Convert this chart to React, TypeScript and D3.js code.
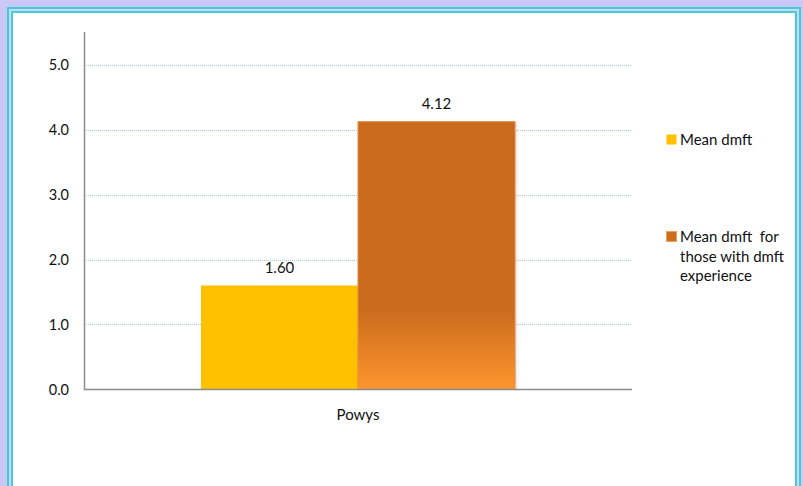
import React from "react";
import * as d3 from "d3";

const categories = ["Powys"];
const seriesNames = ["Mean dmft", "Mean dmft  for those with dmft experience"];
const legendLines = [["Mean dmft"], ["Mean dmft  for", "those with dmft", "experience"]];
const seriesValues = [[1.6], [4.12]];
const valueLabels = [["1.60"], ["4.12"]];
const yTicks = [0, 1, 2, 3, 4, 5];

const W = 803;
const H = 486;
const plot = { left: 84, right: 632, top: 32, bottom: 390 };
const FONT = "Lato, 'Open Sans', sans-serif";

export default function App() {
  const y = d3.scaleLinear().domain([0, 5.5]).range([plot.bottom - 0.5, plot.top]);
  const x0 = d3.scaleBand<string>().domain(categories).range([plot.left, plot.right]).paddingInner(0).paddingOuter(0);
  const x1 = d3
    .scaleBand<number>()
    .domain(seriesNames.map((_, i) => i))
    .range([117, x0.bandwidth() - 117])
    .padding(0);

  return (
    <svg
      width={W}
      height={H}
      style={{ position: "absolute", left: 0, top: 0, display: "block" }}
      fontFamily={FONT}
    >
      <defs>
        <linearGradient id="orangeGrad" x1="0" y1="0" x2="0" y2="1">
          <stop offset="0" stopColor="#c96a1c" />
          <stop offset="0.7" stopColor="#ca6b1d" />
          <stop offset="1" stopColor="#ff952f" />
        </linearGradient>
        <linearGradient id="shadowGrad" x1="0" y1="0" x2="1" y2="0">
          <stop offset="0" stopColor="#000" stopOpacity="0.12" />
          <stop offset="1" stopColor="#000" stopOpacity="0" />
        </linearGradient>
      </defs>
      {/* frame */}
      <rect x={0} y={0} width={W} height={H} fill="#cbc8f8" />
      <rect x={7} y={7} width={794} height={H + 20} fill="#3ccfd6" />
      <rect x={9} y={9} width={790} height={H + 20} fill="#d4d2f6" />
      <rect x={11} y={11} width={786} height={H + 20} fill="#3ccfd6" />
      <rect x={13} y={13} width={782} height={H + 20} fill="#ffffff" />

      {/* gridlines */}
      {yTicks
        .filter((t) => t > 0)
        .map((t) => (
          <line
            key={t}
            x1={plot.left}
            x2={plot.right}
            y1={Math.round(y(t)) + 0.5}
            y2={Math.round(y(t)) + 0.5}
            stroke="#a9c4e6"
            strokeWidth={1}
            strokeDasharray="1,1"
          />
        ))}

      {/* bars */}
      {categories.map((c, ci) =>
        seriesNames.map((_, si) => {
          const bx = (x0(c) as number) + (x1(si) as number);
          const bw = x1.bandwidth();
          const by = y(seriesValues[si][ci]);
          const bh = y(0) - by;
          return (
            <g key={`${ci}-${si}`}>
              {si === 1 && (
                <rect x={bx + bw} y={by + 2} width={4} height={bh - 1} fill="url(#shadowGrad)" />
              )}
              <rect
                x={bx}
                y={by}
                width={bw}
                height={bh}
                fill={si === 0 ? "#ffc000" : "url(#orangeGrad)"}
                stroke={si === 0 ? "none" : "#e8883a"}
                strokeWidth={si === 0 ? 0 : 1}
              />
              <text
                x={bx + bw / 2}
                y={by - 13}
                textAnchor="middle"
                fontSize={15}
                fill="#111"
              >
                {valueLabels[si][ci]}
              </text>
            </g>
          );
        })
      )}

      {/* axes */}
      <line x1={plot.left + 0.5} x2={plot.left + 0.5} y1={plot.top} y2={plot.bottom} stroke="#8c8c8c" strokeWidth={1.5} />
      <line x1={plot.left} x2={plot.right} y1={plot.bottom - 0.5} y2={plot.bottom - 0.5} stroke="#8c8c8c" strokeWidth={1.5} />

      {yTicks.map((t) => (
        <text key={t} x={69} y={y(t) + 5} textAnchor="end" fontSize={14.5} fill="#111">
          {t.toFixed(1)}
        </text>
      ))}

      {categories.map((c) => (
        <text
          key={c}
          x={(x0(c) as number) + x0.bandwidth() / 2}
          y={420}
          textAnchor="middle"
          fontSize={15}
          fill="#111"
        >
          {c}
        </text>
      ))}

      {/* legend */}
      {legendLines.map((lines, si) => {
        const ly = si === 0 ? 134 : 231;
        return (
          <g key={si}>
            <rect
              x={666.5}
              y={ly + 0.5}
              width={10}
              height={10}
              fill={si === 0 ? "#ffc000" : "#cc6d1e"}
              stroke={si === 0 ? "none" : "#f0a060"}
            />
            {lines.map((ln, li) => (
              <text key={li} x={680} y={ly + 11 + li * 19.5} fontSize={15} fill="#111" xmlSpace="preserve">
                {ln}
              </text>
            ))}
          </g>
        );
      })}
    </svg>
  );
}
